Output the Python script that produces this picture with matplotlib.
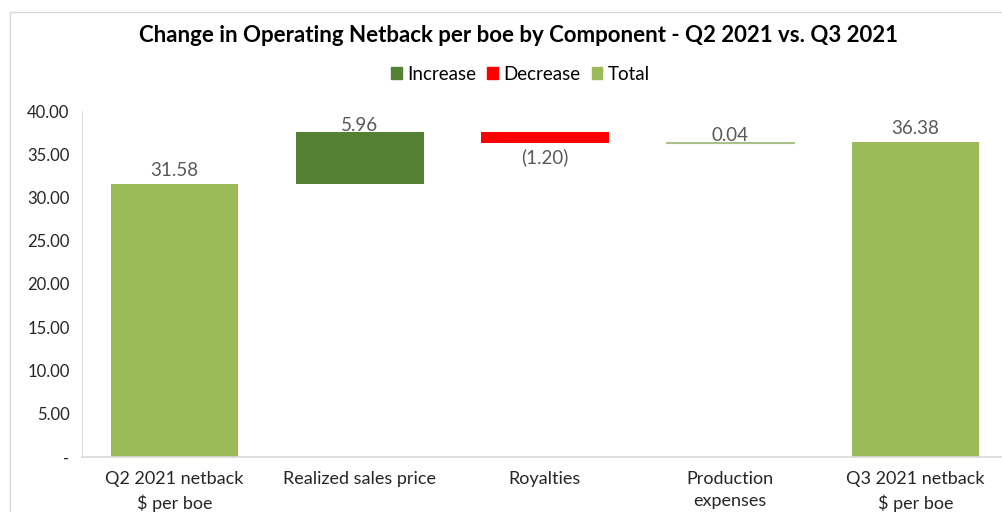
import matplotlib.pyplot as plt
from matplotlib.patches import Patch, Rectangle

plt.rcParams['font.family'] = ['Lato', 'DejaVu Sans']

# data
categories = ['Q2 2021 netback\n\\$ per boe', 'Realized sales price', 'Royalties',
              'Production\nexpenses', 'Q3 2021 netback\n\\$ per boe']
start_total = 31.58
changes = [5.96, -1.20, 0.04]
end_total = 36.38
y_ticks = [0, 5, 10, 15, 20, 25, 30, 35, 40]

c_inc = '#548235'
c_dec = '#FF0000'
c_tot = '#9BBB59'
txt_gray = '#595959'

fig = plt.figure(figsize=(10.03, 5.12), dpi=100)
# chart border (cropped on the right/bottom like the source)
fig.patches.append(Rectangle((10 / 1003, -0.1), 1.2, 1 - 12 / 512 + 0.1,
                             transform=fig.transFigure, fill=False,
                             edgecolor='#D9D9D9', linewidth=1))
ax = fig.add_axes([82 / 1003, 55 / 512, 926 / 1003, 346 / 512])

w = 0.69
ax.bar(0, start_total, width=w, color=c_tot)
ax.text(0, start_total + 0.6, f'{start_total:.2f}', ha='center', va='bottom',
        fontsize=13.5, color=txt_gray)

level = start_total
for i, ch in enumerate(changes, start=1):
    if ch >= 0:
        bottom = level
        col = c_inc
    else:
        bottom = level + ch
        col = c_dec
    if abs(ch) < 0.1:
        ax.bar(i, abs(ch), bottom=bottom, width=w, color=c_tot,
               edgecolor='#A9C08A', linewidth=0.8)
    else:
        ax.bar(i, abs(ch), bottom=bottom, width=w, color=col)
    level += ch
    if ch >= 0:
        ax.text(i, bottom + abs(ch) - 0.25, f'{ch:.2f}', ha='center', va='bottom',
                fontsize=13.5, color=txt_gray)
    else:
        ax.text(i, bottom - 0.6, f'({abs(ch):.2f})', ha='center', va='top',
                fontsize=13.5, color=txt_gray)

ax.bar(4, end_total, width=w, color=c_tot)
ax.text(4, end_total + 0.6, f'{end_total:.2f}', ha='center', va='bottom',
        fontsize=13.5, color=txt_gray)

ax.set_xlim(-0.5, 4.5)
ax.set_ylim(0, 40)
ax.set_yticks(y_ticks)
ax.set_yticklabels(['-' if v == 0 else f'{v:.2f}' for v in y_ticks])
ax.set_xticks(range(len(categories)))
ax.set_xticklabels(categories, fontsize=13, linespacing=1.5)
ax.tick_params(axis='y', labelsize=12, length=0, pad=9, colors='#262626')
ax.tick_params(axis='x', length=0, pad=10, colors='#262626')
for s in ['top', 'right']:
    ax.spines[s].set_visible(False)
ax.spines['left'].set_color('#E0E0E0')
ax.spines['bottom'].set_color('#D9D9D9')
ax.spines['bottom'].set_linewidth(1.2)

fig.text(0.517, 1 - 36 / 512, 'Change in Operating Netback per boe by Component - Q2 2021 vs. Q3 2021',
         ha='center', va='center', fontsize=16, fontweight='bold')

handles = [Patch(color=c_inc, label='Increase'), Patch(color=c_dec, label='Decrease'),
           Patch(color=c_tot, label='Total')]
fig.legend(handles=handles, loc='center', bbox_to_anchor=(0.519, 1 - 74 / 512), ncol=3,
           frameon=False, fontsize=13.5, handlelength=0.55, handleheight=0.55,
           handletextpad=0.3, columnspacing=0.6)

fig.savefig('out.png', dpi=100)
